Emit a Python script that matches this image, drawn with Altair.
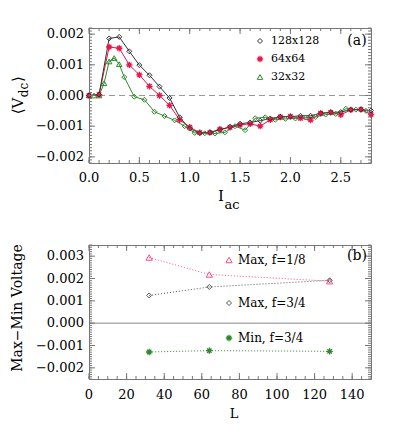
import altair as alt
import pandas as pd

FONT = "DejaVu Serif"
BLACK = "#333333"
RED = "#e8174b"
GREEN = "#2b8a2b"
PINK = "#f0507f"
DARK = "#555555"
FRAME = "#777777"
ASTER = "M-1,0L1,0M0,-1L0,1M-0.7,-0.7L0.7,0.7M-0.7,0.7L0.7,-0.7"

# ---------------- panel (a) data ----------------
I_grid = [0.0, 0.1, 0.2, 0.3, 0.4, 0.5, 0.6, 0.7, 0.8, 0.9, 1.0, 1.1, 1.2, 1.3, 1.4,
          1.5, 1.6, 1.7, 1.8, 1.9, 2.0, 2.1, 2.2, 2.3, 2.4, 2.5, 2.6, 2.7, 2.8]
V_128 = [0.0, 0.00003, 0.00186, 0.00191, 0.00144, 0.00099, 0.00066, 0.00029, -0.00008,
         -0.00071, -0.00108, -0.00122, -0.00120, -0.00112, -0.00102, -0.00092, -0.00088,
         -0.00082, -0.00075, -0.00069, -0.00069, -0.00066, -0.00066, -0.00058, -0.00055,
         -0.00054, -0.00046, -0.00046, -0.00049]
V_64 = [0.0, 0.00003, 0.00158, 0.00154, 0.00100, 0.00067, 0.00030, 0.00000, -0.00032,
        -0.00079, -0.00103, -0.00121, -0.00121, -0.00110, -0.00104, -0.00096, -0.00092,
        -0.00100, -0.00079, -0.00070, -0.00068, -0.00074, -0.00080, -0.00058, -0.00055,
        -0.00063, -0.00047, -0.00045, -0.00062]
I_32 = [0.0, 0.05, 0.1, 0.15, 0.2, 0.25, 0.3, 0.35, 0.45, 0.55, 0.65, 0.75, 0.85, 0.95,
        1.05, 1.15, 1.25, 1.35, 1.45, 1.55, 1.65, 1.75, 1.85, 1.95, 2.05, 2.15, 2.25,
        2.35, 2.45, 2.55, 2.65, 2.75]
V_32 = [0.0, 0.0, 0.0, 0.00040, 0.00111, 0.00122, 0.00102, 0.00060, -0.00004, -0.00014,
        -0.00053, -0.00067, -0.00081, -0.00100, -0.00122, -0.00123, -0.00124, -0.00120,
        -0.00100, -0.00113, -0.00074, -0.00071, -0.00079, -0.00076, -0.00075, -0.00072,
        -0.00070, -0.00062, -0.00060, -0.00043, -0.00046, -0.00050]
legend_a = ["128x128", "64x64", "32x32"]

# ---------------- panel (b) data ----------------
L_vals = [32, 64, 128]
max_f18 = [0.00294, 0.00218, 0.00188]
max_f34 = [0.00124, 0.00162, 0.00192]
min_f34 = [-0.00129, -0.00123, -0.00126]
legend_b = ["Max, f=1/8", "Max, f=3/4", "Min, f=3/4"]

# tick values
xa_major = [0.0, 0.5, 1.0, 1.5, 2.0, 2.5]
ya_major = [-0.002, -0.001, 0.0, 0.001, 0.002]
xb_major = [0, 20, 40, 60, 80, 100, 120, 140]
yb_major = [-0.002, -0.001, 0.0, 0.001, 0.002, 0.003]
xa_minor = [i / 10 for i in range(0, 29)]
ya_minor = [i / 10000 for i in range(-22, 23)]
xb_minor = [i * 5 for i in range(0, 31)]
yb_minor = [i / 10000 for i in range(-25, 36)]

W = 282
H1 = 135
H2 = 134
TX = -71  # x of rotated y titles, relative to plot left


def tick_layers(xs, ys, xmaj, xmin, ymaj, ymin, H):
    out = []
    for vals, ln in [(xmaj, 6), (xmin, 3)]:
        d = alt.Chart(pd.DataFrame({"x": vals})).mark_rule(color=FRAME, strokeWidth=1)
        out.append(d.encode(x=alt.X("x:Q", scale=xs, axis=None), y=alt.value(0), y2=alt.value(ln)))
        out.append(d.encode(x=alt.X("x:Q", scale=xs, axis=None), y=alt.value(H - ln), y2=alt.value(H)))
    for vals, ln in [(ymaj, 6), (ymin, 3)]:
        d = alt.Chart(pd.DataFrame({"y": vals})).mark_rule(color=FRAME, strokeWidth=1)
        out.append(d.encode(y=alt.Y("y:Q", scale=ys, axis=None), x=alt.value(0), x2=alt.value(ln)))
        out.append(d.encode(y=alt.Y("y:Q", scale=ys, axis=None), x=alt.value(W - ln), x2=alt.value(W)))
    return out


def label_layers(xs, ys, xmaj, ymaj, xfmt, yfmt, H, xoff):
    xl = alt.Chart(pd.DataFrame({"v": xmaj})).mark_text(
        font=FONT, fontSize=13, align="center", baseline="middle", color="black").encode(
        x=alt.X("v:Q", scale=xs, axis=None), y=alt.value(H + xoff),
        text=alt.Text("v:Q", format=xfmt))
    yl = alt.Chart(pd.DataFrame({"v": ymaj})).mark_text(
        font=FONT, fontSize=13, align="right", baseline="middle", color="black").encode(
        y=alt.Y("v:Q", scale=ys, axis=None), x=alt.value(-5),
        text=alt.Text("v:Q", format=yfmt))
    return [xl, yl]


def text_item(s, x, y, size, angle=0, align="center", color="black"):
    kw = dict(font=FONT, fontSize=size, align=align, baseline="middle", color=color)
    if angle:
        kw["angle"] = angle
    return alt.Chart(pd.DataFrame({"t": [s]})).mark_text(**kw).encode(
        x=alt.value(x), y=alt.value(y), text="t:N")


def legend_marker(shape, color, x, y, size, sw=1.0):
    return alt.Chart(pd.DataFrame({"k": [0]})).mark_point(
        shape=shape, color=color, filled=False, size=size, strokeWidth=sw, opacity=1
    ).encode(x=alt.value(x), y=alt.value(y))


# ---------------- panel (a) ----------------
xs1 = alt.Scale(domain=[0, 2.8], nice=False, zero=False)
ys1 = alt.Scale(domain=[-0.0022, 0.0022], nice=False, zero=False)

d128 = pd.DataFrame({"I": I_grid, "V": V_128})
d64 = pd.DataFrame({"I": I_grid, "V": V_64})
d32 = pd.DataFrame({"I": I_32, "V": V_32})

zero_a = alt.Chart(pd.DataFrame({"y": [0.0]})).mark_rule(
    color="#999999", strokeDash=[6, 4], strokeWidth=1).encode(
    y=alt.Y("y:Q", scale=ys1, axis=None), x=alt.value(0), x2=alt.value(W))

enc_a = dict(x=alt.X("I:Q", scale=xs1, axis=None), y=alt.Y("V:Q", scale=ys1, axis=None))

layers_a = [zero_a]
for df, col in [(d32, GREEN), (d64, RED), (d128, BLACK)]:
    layers_a.append(alt.Chart(df).mark_line(color=col, strokeWidth=1).encode(**enc_a))
layers_a.append(alt.Chart(d32).mark_point(shape="triangle-up", color=GREEN, filled=False,
                                          size=30, strokeWidth=1, opacity=1)
                .encode(**enc_a).transform_filter(alt.datum.I <= 0.3))
layers_a.append(alt.Chart(d32).mark_point(shape="diamond", color=GREEN, filled=False,
                                          size=25, strokeWidth=1, opacity=1)
                .encode(**enc_a).transform_filter(alt.datum.I > 0.3))
layers_a.append(alt.Chart(d64).mark_point(shape=ASTER, color=RED, filled=False,
                                          size=40, strokeWidth=1.3, opacity=1).encode(**enc_a))
layers_a.append(alt.Chart(d128).mark_point(shape="diamond", color=BLACK, filled=False,
                                           size=25, strokeWidth=1, opacity=1).encode(**enc_a))
layers_a += tick_layers(xs1, ys1, xa_major, xa_minor, ya_major, ya_minor, H1)
layers_a += label_layers(xs1, ys1, xa_major, ya_major, ".1f", ".3f", H1, 15)

# legend (a)
layers_a.append(legend_marker("diamond", BLACK, 171, 13, 25))
layers_a.append(legend_marker(ASTER, RED, 171, 31, 40, 1.3))
layers_a.append(legend_marker("triangle-up", GREEN, 171, 49, 30))
for lab, yy in zip(legend_a, [13, 31, 49]):
    layers_a.append(text_item(lab, 182, yy, 11, align="left"))
layers_a.append(text_item("(a)", 268, 13, 14))
# axis titles (a)
layers_a.append(text_item("⟨V", TX, 78, 15, angle=270))
layers_a.append(text_item("dc", TX + 6, 62, 12, angle=270))
layers_a.append(text_item("⟩", TX, 51, 15, angle=270))
layers_a.append(text_item("I", 132, H1 + 33, 15))
layers_a.append(text_item("ac", 143, H1 + 42, 13))

panel_a = alt.layer(*layers_a).properties(width=W, height=H1)

# ---------------- panel (b) ----------------
xs2 = alt.Scale(domain=[0, 150], nice=False, zero=False)
ys2 = alt.Scale(domain=[-0.0025, 0.0035], nice=False, zero=False)

db = pd.DataFrame({"L": L_vals, "a": max_f18, "b": max_f34, "c": min_f34})

zero_b = alt.Chart(pd.DataFrame({"y": [0.0]})).mark_rule(color="#888888", strokeWidth=1).encode(
    y=alt.Y("y:Q", scale=ys2, axis=None), x=alt.value(0), x2=alt.value(W))

layers_b = [zero_b]
xenc = alt.X("L:Q", scale=xs2, axis=None)
for col, c, shp, sz, sw in [("a", PINK, "triangle-up", 40, 1.0),
                            ("b", DARK, "diamond", 25, 1.0),
                            ("c", GREEN, ASTER, 40, 1.3)]:
    yenc = alt.Y(f"{col}:Q", scale=ys2, axis=None)
    layers_b.append(alt.Chart(db).mark_line(color=c, strokeWidth=1, strokeDash=[1, 2])
                    .encode(x=xenc, y=yenc))
    layers_b.append(alt.Chart(db).mark_point(shape=shp, color=c, filled=False, size=sz,
                                             strokeWidth=sw, opacity=1)
                    .encode(x=xenc, y=yenc))
layers_b += tick_layers(xs2, ys2, xb_major, xb_minor, yb_major, yb_minor, H2)
layers_b += label_layers(xs2, ys2, xb_major, yb_major, "d", ".3f", H2, 16)

layers_b.append(legend_marker("triangle-up", PINK, 140, 15, 40))
layers_b.append(legend_marker("diamond", DARK, 140, 58, 25))
layers_b.append(legend_marker(ASTER, GREEN, 140, 93, 40, 1.3))
for lab, yy in zip(legend_b, [15, 58, 93]):
    layers_b.append(text_item(lab, 149, yy, 12, align="left"))
layers_b.append(text_item("(b)", 268, 11, 14))
layers_b.append(text_item("Max−Min Voltage", TX, 63, 14, angle=270))
layers_b.append(text_item("L", 145, H2 + 35, 13))

panel_b = alt.layer(*layers_b).properties(width=W, height=H2)

chart = alt.vconcat(panel_a, panel_b, spacing=30).properties(
    padding={"left": 2, "top": 19, "right": 5, "bottom": 5}
).configure_view(stroke=FRAME, strokeWidth=1)

chart.save("out.html", embed_options={"renderer": "svg", "actions": False})
